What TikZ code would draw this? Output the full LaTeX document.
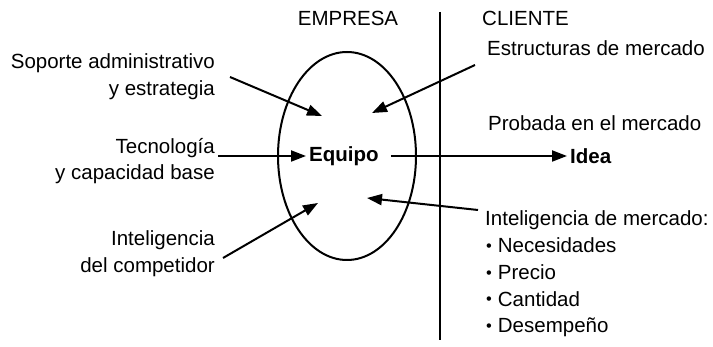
\documentclass[tikz,border=0pt]{standalone}
\usepackage{fontspec}
\setmainfont{Liberation Sans}
\usepackage{tikz}
\usetikzlibrary{calc,positioning,arrows.meta,shapes.geometric}

\tikzset{
    texto/.style={font=\fontsize{20.5}{26.8}\selectfont, inner sep=3pt},
    flecha/.style={line width=2pt, -{Triangle[length=15pt,width=11pt]}},
}
\newcommand{\vineta}{\hspace{1pt}\raisebox{1.2pt}{\scalebox{0.8}{•}}\hspace{6pt}}

\begin{document}
\begin{tikzpicture}[x=1pt, y=-1pt]
    \useasboundingbox (0,0) rectangle (713,347);

    \node [draw, ellipse, line width=2pt, minimum width=138pt, minimum height=208pt] (ovalo) at (347,156) {};
    \coordinate (divA) at (440,12);
    \coordinate (divB) at (440,340);
    \draw [line width=2pt] (divA) -- (divB);

    \node [texto] (empresa) at (348,18) {EMPRESA};
    \node [texto, anchor=west] (cliente) at (479,18) {CLIENTE};

    \node [texto, font=\fontsize{20.5}{26.8}\selectfont\bfseries, anchor=west] (equipo) at (306,156) {Equipo};
    \node [texto, font=\fontsize{20.5}{26.8}\selectfont\bfseries, anchor=west] (idea) at (567,156) {Idea};

    \node [texto, anchor=east, align=right] (soporte) at (218,77) {Soporte administrativo\\y estrategia};
    \node [texto, anchor=east, align=right] (tecnologia) at (218,161) {Tecnología\\y capacidad base};
    \node [texto, anchor=east, align=right] (competidor) at (218,254) {Inteligencia\\del competidor};

    \node [texto, anchor=west] (estructuras) at (484,48) {Estructuras de mercado};
    \node [texto, anchor=west] (probada) at (485,123) {Probada en el mercado};
    \node [texto, anchor=west, align=left] (mercado) at (482,274) {Inteligencia de mercado:\\\vineta Necesidades\\\vineta Precio\\\vineta Cantidad\\\vineta Desempeño};

    % puntas dentro del ovalo
    \coordinate (pSoporte) at (322,116);
    \coordinate (pCompetidor) at (318,203);
    \coordinate (pEstructuras) at (372,113);
    \coordinate (pMercado) at (367,198);

    \draw [flecha] ([shift={(12,0)}]soporte.east) -- (pSoporte);
    \draw [flecha] (tecnologia.east |- equipo.west) -- (equipo.west);
    \draw [flecha] ([shift={(5,4)}]competidor.east) -- (pCompetidor);
    \draw [flecha] ([shift={(-9,17)}]estructuras.west) -- (pEstructuras);
    \draw [flecha] ([shift={(-4,-64)}]mercado.west) -- (pMercado);
    \draw [flecha, shorten <=9pt] (equipo.east) -- (idea.west);
\end{tikzpicture}
\end{document}
